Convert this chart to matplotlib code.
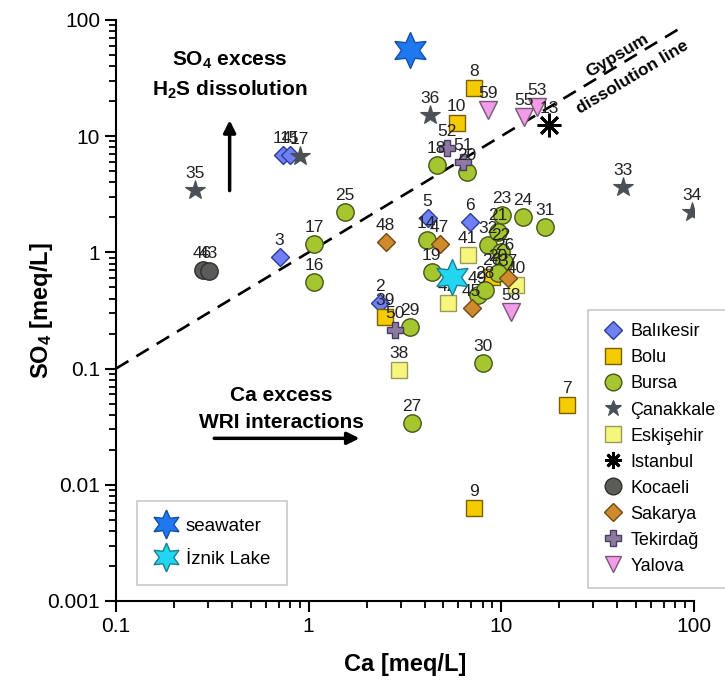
import numpy as np
import matplotlib
matplotlib.use("Agg")
import matplotlib.pyplot as plt

plt.rcParams['font.family'] = ['Liberation Sans', 'DejaVu Sans']
plt.rcParams['mathtext.default'] = 'regular'

# sample data (Ca, SO4 in meq/L)
bal_ca = [2.34, 0.707, 4.15, 6.85, 0.733, 0.797]
bal_so4 = [0.364, 0.906, 1.96, 1.81, 6.84, 6.84]
bal_lab = ['2', '3', '5', '6', '14', '15']

bolu_ca = [7.19, 5.87, 21.9, 7.19, 2.48, 8.91]
bolu_so4 = [25.8, 12.9, 0.0482, 0.00626, 0.276, 0.609]
bolu_lab = ['8', '10', '7', '9', '39', '26']

bur_ca = [1.54, 1.07, 1.07, 4.62, 6.61, 4.10, 4.35, 3.35, 3.43, 8.01,
          10.05, 12.9, 16.8, 8.5, 9.58, 10.0, 10.4, 9.58, 7.54, 8.2]
bur_so4 = [2.21, 1.17, 0.552, 5.61, 4.88, 1.27, 0.673, 0.226, 0.0338, 0.111,
           2.08, 2.0, 1.64, 1.15, 1.49, 1.0, 0.82, 0.66, 0.427, 0.471]
bur_lab = ['25', '17', '16', '18', '20', '14', '19', '29', '27', '30',
           '23', '24', '31', '32', '21', '22', '26', '20', '49', '28']

can_ca = [0.256, 0.898, 4.25, 42.7, 97.4]
can_so4 = [3.42, 6.70, 15.1, 3.63, 2.21]
can_lab = ['35', '17', '36', '33', '34']

esk_ca = [2.93, 6.69, 5.27, 12.0]
esk_so4 = [0.0965, 0.942, 0.364, 0.52]
esk_lab = ['38', '41', '42', '40']

ist_ca = [17.8]
ist_so4 = [12.4]
ist_lab = ['13']

koc_ca = [0.282, 0.303]
koc_so4 = [0.70, 0.69]
koc_lab = ['46', '43']

sak_ca = [2.51, 4.79, 7.02, 10.8]
sak_so4 = [1.22, 1.17, 0.33, 0.598]
sak_lab = ['48', '47', '45', '37']

tek_ca = [5.21, 6.30, 2.8]
tek_so4 = [7.85, 5.95, 0.213]
tek_lab = ['52', '51', '50']

yal_ca = [8.5, 13.2, 15.3, 11.3]
yal_so4 = [16.7, 14.5, 17.7, 0.305]
yal_lab = ['59', '55', '53', '58']

sea_ca, sea_so4 = [3.35], [54.8]
iznik_ca, iznik_so4 = [5.53], [0.609]

fig = plt.figure(figsize=(7.25, 6.88), dpi=100)
ax = fig.add_axes([0.160, 0.1265, 0.797, 0.8445])
ax.set_xscale('log')
ax.set_yscale('log')
ax.set_xlim(0.1, 100)
ax.set_ylim(0.001, 100)

# gypsum dissolution line (1:1)
ax.plot([0.1, 90], [0.1, 90], color='k', lw=1.9, ls=(0, (5.5, 3.5)), zorder=2)

groups = [
    ('Balıkesir', bal_ca, bal_so4, bal_lab, 'D', 9.5, '#6f80f2', '#2c3c9a', 1),
    ('Bolu', bolu_ca, bolu_so4, bolu_lab, 's', 11, '#f5cc00', '#7a6000', 1),
    ('Bursa', bur_ca, bur_so4, bur_lab, 'o', 12.5, '#a6c630', '#45561a', 1),
    ('Çanakkale', can_ca, can_so4, can_lab, '*', 15, '#4b5057', '#4b5057', 0.8),
    ('Eskişehir', esk_ca, esk_so4, esk_lab, 's', 11, '#f6f67c', '#9a9a5a', 1),
    ('Istanbul', ist_ca, ist_so4, ist_lab, (8, 2, 0), 17, 'k', 'k', 2),
    ('Kocaeli', koc_ca, koc_so4, koc_lab, 'o', 12.5, '#5b5c58', '#303030', 1),
    ('Sakarya', sak_ca, sak_so4, sak_lab, 'D', 9.5, '#cf8a2c', '#6e4a18', 1),
    ('Tekirdağ', tek_ca, tek_so4, tek_lab, 'P', 11, '#8b7ba3', '#4a3c5e', 1),
    ('Yalova', yal_ca, yal_so4, yal_lab, 'v', 13, '#f29be8', '#7a5478', 1),
]

handles = []
for name, xs, ys, labs, mk, ms, fc, ec, lw in groups:
    h, = ax.plot(xs, ys, ls='none', marker=mk, ms=ms, mfc=fc, mec=ec,
                 mew=lw, label=name, zorder=4)
    handles.append(h)
    for x, y, t in zip(xs, ys, labs):
        ax.annotate(t, (x, y), xytext=(0, 7), textcoords='offset points',
                    ha='center', va='bottom', fontsize=12.5, color='#222222',
                    zorder=5)

sw, = ax.plot(sea_ca, sea_so4, ls='none', marker=(6, 1, 0), ms=26,
              mfc='#1f78f0', mec='#1450a8', mew=1, label='seawater', zorder=6)
iz, = ax.plot(iznik_ca, iznik_so4, ls='none', marker=(6, 1, 0), ms=26,
              mfc='#22d6f2', mec='#1a8090', mew=1, label='İznik Lake', zorder=6)

leg1 = ax.legend(handles=handles, loc='upper left', bbox_to_anchor=(0.817, 0.501),
                 fontsize=13, frameon=True, fancybox=False, edgecolor='#bbbbbb',
                 handletextpad=0.3, labelspacing=0.5, borderpad=0.75,
                 handlelength=1.3, borderaxespad=0)
leg1.get_frame().set_linewidth(1.2)
for lh in leg1.legend_handles:
    lh.set_markersize(min(lh.get_markersize(), 12))
ax.add_artist(leg1)

leg2 = ax.legend(handles=[sw, iz], loc='lower left', bbox_to_anchor=(0.036, 0.028),
                 fontsize=13.5, frameon=True, fancybox=False, edgecolor='#bbbbbb',
                 handletextpad=0.4, labelspacing=0.85, borderpad=0.9,
                 handlelength=1.3, borderaxespad=0, markerscale=0.8)
leg2.get_frame().set_linewidth(1.2)

# annotations
ax.text(0.389, 44.9, 'SO$_4$ excess', ha='center', va='center',
        fontsize=15, fontweight='bold')
ax.text(0.389, 24.8, 'H$_2$S dissolution', ha='center', va='center',
        fontsize=15, fontweight='bold')
ax.annotate('', xy=(0.389, 14.5), xytext=(0.389, 3.22),
            arrowprops=dict(arrowstyle='-|>', color='k', lw=2.5, mutation_scale=18))

ax.text(0.724, 0.0588, 'Ca excess', ha='center', va='center',
        fontsize=15, fontweight='bold')
ax.text(0.724, 0.0344, 'WRI interactions', ha='center', va='center',
        fontsize=15, fontweight='bold')
ax.annotate('', xy=(1.9, 0.0251), xytext=(0.313, 0.0251),
            arrowprops=dict(arrowstyle='-|>', color='k', lw=2.5, mutation_scale=18))

ax.text(40.2, 49.6, 'Gypsum', rotation=31, ha='center', va='center',
        fontsize=12.5, fontweight='bold')
ax.text(48.1, 32.1, 'dissolution line', rotation=31, ha='center', va='center',
        fontsize=12.5, fontweight='bold')

# axes styling
ax.spines['top'].set_visible(False)
ax.spines['right'].set_visible(False)
ax.spines['left'].set_linewidth(1.5)
ax.spines['bottom'].set_linewidth(1.5)
ax.tick_params(which='major', direction='out', length=8, width=1.5, labelsize=15)
ax.tick_params(which='minor', direction='out', length=5, width=1.3)
ax.set_xticks([0.1, 1, 10, 100])
ax.set_xticklabels(['0.1', '1', '10', '100'])
ax.set_yticks([0.001, 0.01, 0.1, 1, 10, 100])
ax.set_yticklabels(['0.001', '0.01', '0.1', '1', '10', '100'])
ax.xaxis.set_minor_locator(matplotlib.ticker.LogLocator(base=10, subs=np.arange(2, 10)))
ax.yaxis.set_minor_locator(matplotlib.ticker.LogLocator(base=10, subs=np.arange(2, 10)))
ax.xaxis.set_minor_formatter(matplotlib.ticker.NullFormatter())
ax.yaxis.set_minor_formatter(matplotlib.ticker.NullFormatter())
ax.set_xlabel('Ca [meq/L]', fontsize=17, fontweight='bold', labelpad=12)
ax.set_ylabel('SO$_4$ [meq/L]', fontsize=17, fontweight='bold')
ax.yaxis.set_label_coords(-0.105, 0.5)

fig.savefig('out.png', dpi=100)
